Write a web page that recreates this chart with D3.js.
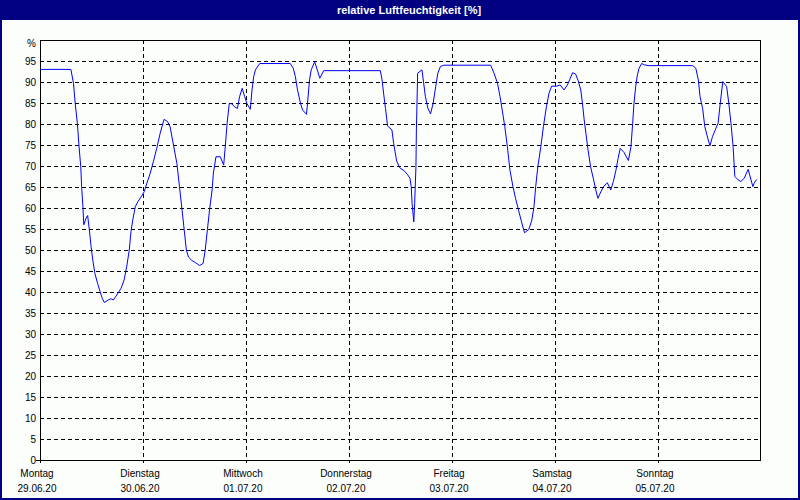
<!DOCTYPE html>
<html><head><meta charset="utf-8">
<script src="https://cdn.jsdelivr.net/npm/d3@7"></script>
<style>
html,body{margin:0;padding:0;background:#fbfefb;}
svg{display:block;}
text{font-family:"Liberation Sans","DejaVu Sans",sans-serif;}
</style></head>
<body><svg id="c" width="800" height="500"></svg>
<script>
const title = "relative Luftfeuchtigkeit [%]";
const dayNames = ["Montag","Dienstag","Mittwoch","Donnerstag","Freitag","Samstag","Sonntag"];
const dayDates = ["29.06.20","30.06.20","01.07.20","02.07.20","03.07.20","04.07.20","05.07.20"];
const yTicks = [0,5,10,15,20,25,30,35,40,45,50,55,60,65,70,75,80,85,90,95];
// hours since Monday 00:00
const hours = [0,7.2,7.8,8.2,8.7,9.1,9.5,9.7,10.0,10.2,10.7,11.1,11.5,11.9,12.3,12.8,13.4,14.0,14.5,15.0,15.9,16.5,17.1,17.9,18.9,19.6,20.2,20.8,21.2,21.6,22.2,22.8,23.6,24.3,24.9,25.7,26.4,27.2,28.0,28.9,29.7,30.3,31.1,31.9,32.5,33.1,33.6,34.1,34.6,35.4,36.2,37.2,38.0,38.5,39.0,39.5,40.1,40.4,41.0,42.0,42.8,43.2,43.6,44.1,44.7,45.3,46.0,46.5,47.1,47.7,48.2,49.0,49.4,49.8,50.2,51.2,58.3,59.0,59.5,60.0,60.7,61.2,62.1,62.4,62.8,63.2,64.0,64.6,65.2,66.1,79.3,79.7,80.1,80.5,81.0,82.0,82.4,83.1,83.8,84.8,85.6,86.2,86.5,86.7,87.1,87.3,87.6,87.7,88.0,89.0,89.4,89.8,90.4,91.0,91.6,92.2,92.7,93.3,94.1,105.0,105.8,106.6,107.2,107.7,108.3,108.9,109.5,110.2,110.8,111.5,112.2,112.9,113.9,114.6,115.1,115.5,116.0,116.7,117.3,118.0,118.6,119.2,120.4,121.2,122.1,122.9,123.4,124.1,124.8,125.4,126.0,126.4,126.8,127.2,127.7,128.3,129.0,129.5,130.0,130.7,131.4,132.2,133.0,133.6,134.2,134.7,135.2,136.1,137.1,137.7,138.1,138.4,138.8,139.2,139.6,140.2,140.8,141.7,152.1,152.8,153.4,153.8,154.4,154.9,155.6,156.1,156.7,157.5,158.0,158.5,159.1,160.0,160.5,161.0,161.5,161.9,162.6,163.3,164.1,165.0,166.1,166.4,167.0];
const humidity = [93.0,93.0,89.7,84.9,80.2,74.6,69.8,65.1,60.3,56.0,57.5,58.2,54.8,50.8,47.6,44.4,42.1,40.1,38.5,37.5,38.1,38.4,38.1,39.3,40.9,42.9,46.0,50.0,54.4,57.1,60.3,61.5,62.7,63.9,65.9,68.3,71.0,74.2,77.8,81.1,80.6,79.4,75.0,70.6,65.1,59.5,54.8,50.0,48.3,47.5,47.0,46.3,46.8,50.0,54.8,59.5,64.3,68.3,72.2,72.2,70.2,75.0,80.2,84.9,84.8,84.1,83.7,86.5,88.5,86.5,84.9,83.5,88.1,91.3,92.9,94.4,94.4,93.3,91.3,88.1,84.9,83.3,82.3,85.7,90.5,92.9,94.8,92.9,90.9,92.7,92.7,90.5,87.0,83.7,79.5,78.6,75.4,71.2,69.6,68.9,68.0,67.1,65.1,61.1,56.7,61.1,69.8,78.6,92.1,92.9,89.7,86.5,83.7,82.4,84.9,88.9,92.1,93.7,94.0,94.0,92.1,89.7,86.5,83.3,79.4,74.6,69.0,65.1,62.3,59.5,56.7,54.1,54.9,57.1,60.3,65.1,69.8,74.6,79.4,84.1,87.3,89.0,89.0,89.3,88.1,89.3,90.5,92.2,91.9,90.3,88.1,84.9,81.0,77.8,73.8,69.8,66.7,64.3,62.3,63.9,65.2,66.0,64.3,66.3,69.0,71.8,74.2,73.2,71.3,74.6,80.2,84.9,88.9,91.7,93.3,94.4,94.1,93.9,93.9,93.3,90.5,86.5,83.7,79.4,76.6,74.8,77.0,79.0,80.2,84.9,90.1,88.9,84.9,80.2,74.6,67.5,66.8,66.3,67.1,69.2,65.1,65.9,66.8];

const svg = d3.select("#c");
const W = 800, H = 500;
const L = 40, R = 760, T = 40, B = 460;
const navy = "#000080";

svg.append("rect").attr("x",0).attr("y",0).attr("width",W).attr("height",H).attr("fill","#fbfefb");
svg.append("rect").attr("x",0).attr("y",0).attr("width",W).attr("height",20).attr("fill",navy);
svg.append("text").attr("x",409).attr("y",14).attr("text-anchor","middle")
  .attr("fill","#fff").attr("font-weight","bold").attr("font-size","11px").text(title);
// outer border
svg.append("rect").attr("x",1).attr("y",1).attr("width",W-2).attr("height",H-2)
  .attr("fill","none").attr("stroke",navy).attr("stroke-width",2);

const x = d3.scaleLinear().domain([0,168]).range([L, 761]);
const y = d3.scaleLinear().domain([0,100]).range([B, T]);

// horizontal grid
svg.append("g").selectAll("line").data(yTicks.filter(d=>d>0)).join("line")
  .attr("x1",L).attr("x2",R).attr("y1",d=>Math.round(y(d))+0.5).attr("y2",d=>Math.round(y(d))+0.5)
  .attr("stroke","#000").attr("stroke-width",1).attr("stroke-dasharray","4,3");
// vertical grid
const dayIdx = d3.range(1,7);
svg.append("g").selectAll("line").data(dayIdx).join("line")
  .attr("x1",d=>Math.round(x(d*24))+0.5).attr("x2",d=>Math.round(x(d*24))+0.5)
  .attr("y1",T).attr("y2",B)
  .attr("stroke","#000").attr("stroke-width",1).attr("stroke-dasharray","4,3");

// y labels
svg.append("g").selectAll("text").data(yTicks).join("text")
  .attr("x",36).attr("y",d=>Math.round(y(d))+4).attr("text-anchor","end")
  .attr("font-size","10px").attr("fill","#000").text(d=>d);
svg.append("text").attr("x",36).attr("y",y(100)+7).attr("text-anchor","end")
  .attr("font-size","10px").attr("fill","#000").text("%");
// tick at 0
svg.append("line").attr("x1",36).attr("x2",L).attr("y1",B+0.5).attr("y2",B+0.5).attr("stroke","#000");

// x labels
const days = d3.range(0,7);
svg.append("g").selectAll("text").data(days).join("text")
  .attr("x",d=>x(d*24)-3).attr("y",477).attr("text-anchor","middle")
  .attr("font-size","10px").attr("fill","#000").text(d=>dayNames[d]);
svg.append("g").selectAll("text").data(days).join("text")
  .attr("x",d=>x(d*24)-3).attr("y",492).attr("text-anchor","middle")
  .attr("font-size","10px").attr("fill","#000").text(d=>dayDates[d]);
// small ticks at day positions on axis
svg.append("g").selectAll("line").data(days).join("line")
  .attr("x1",d=>Math.round(x(d*24))+0.5).attr("x2",d=>Math.round(x(d*24))+0.5)
  .attr("y1",B).attr("y2",B+3).attr("stroke","#000");

// frame
svg.append("rect").attr("x",L+0.5).attr("y",T+0.5).attr("width",R-L).attr("height",B-T)
  .attr("fill","none").attr("stroke","#000").attr("stroke-width",1);

// line
const pts = hours.map((h,i)=>[h,humidity[i]]);
svg.append("path").datum(pts)
  .attr("fill","none").attr("stroke","#0000ff").attr("stroke-width",1)
  .attr("d", d3.line().x(d=>x(d[0])).y(d=>y(d[1])));
</script></body></html>
